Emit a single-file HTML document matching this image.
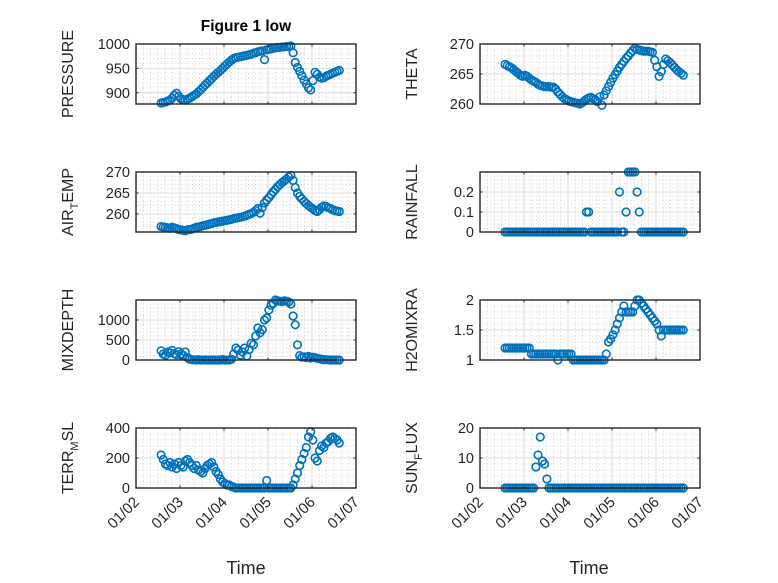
<!DOCTYPE html>
<html><head><meta charset="utf-8"><style>
body{margin:0;background:#fff}
svg{display:block;font-family:"Liberation Sans",sans-serif}
</style></head><body>
<svg id="fig" width="778" height="583" viewBox="0 0 778 583" xmlns="http://www.w3.org/2000/svg">
<rect width="778" height="583" fill="#fff"/>
<text x="246" y="31" text-anchor="middle" font-size="15.5" font-weight="bold" fill="#000">Figure 1 low</text>
<text x="246" y="574" text-anchor="middle" font-size="18" fill="#262626">Time</text>
<text x="589" y="574" text-anchor="middle" font-size="18" fill="#262626">Time</text>
</svg>
<script>
const times=[];for(let i=0;i<82;i++)times.push(+(2.57+0.05*i).toFixed(2));
const xTickDays=[2,3,4,5,6,7];
const xTickLabels=["01/02","01/03","01/04","01/05","01/06","01/07"];
const pressure=[879,880,881,883,885,889,895,899,893,888,886,885,887,889,892,895,898,902,906,911,916,920,925,929,934,938,942,946,950,955,959,963,967,970,972,973,974,975,976,977,978,979,981,982,984,985,986,968,988,989,990,991,992,993,993,994,994,995,995,996,982,962,952,944,935,926,918,910,906,925,942,938,932,930,931,934,936,938,940,942,944,946];
const theta=[266.6,266.4,266.2,266.0,265.7,265.4,265.1,264.8,264.6,264.8,264.6,264.3,264.0,263.8,263.6,263.3,263.1,263.0,262.9,262.9,262.9,262.8,262.8,262.5,262.0,261.6,261.2,260.9,260.7,260.5,260.4,260.3,260.2,260.1,260.0,260.2,260.5,260.8,261.0,261.1,260.9,260.7,260.4,261.2,259.8,261.5,262.2,262.9,263.6,264.3,264.9,265.5,266.1,266.6,267.1,267.6,268.0,268.5,268.9,269.3,269.1,269.0,268.9,268.8,268.8,268.8,268.7,268.6,267.3,266.2,264.6,265.4,266.6,267.5,267.2,266.9,266.5,266.1,265.7,265.4,265.1,264.8];
const airTemp=[257.0,256.9,256.8,256.7,256.6,256.8,256.7,256.5,256.3,256.2,256.1,256.0,256.2,256.3,256.4,256.6,256.8,256.9,257.0,257.2,257.3,257.4,257.6,257.7,257.9,258.0,258.1,258.2,258.3,258.4,258.5,258.6,258.7,258.9,259.0,259.1,259.2,259.3,259.5,259.7,259.9,260.1,260.4,260.8,261.3,260.2,261.5,262.6,263.3,263.9,264.6,265.3,265.9,266.5,267.0,267.5,267.9,268.3,268.8,269.2,268.0,266.3,265.0,264.2,263.6,263.0,262.5,262.0,261.6,261.2,260.8,260.6,261.0,261.6,261.9,261.8,261.5,261.3,261.0,260.8,260.7,260.6];
const rainfall=[0,0,0,0,0,0,0,0,0,0,0,0,0,0,0,0,0,0,0,0,0,0,0,0,0,0,0,0,0,0,0,0,0,0,0,0,0,0.1,0.1,0,0,0,0,0,0,0,0,0,0,0,0,0,0.2,0,0,0.1,0.3,0.3,0.3,0.3,0.2,0.1,0,0,0,0,0,0,0,0,0,0,0,0,0,0,0,0,0,0,0,0];
const mixDepth=[230,150,120,200,180,240,160,130,210,150,120,200,60,20,10,5,0,10,0,0,5,0,0,0,0,0,0,0,10,0,0,0,20,150,300,250,120,200,300,100,260,420,380,600,800,680,760,1000,1050,1250,1370,1420,1500,1480,1470,1460,1480,1470,1450,1400,1100,880,380,110,70,80,60,90,50,70,60,40,30,20,10,10,5,0,0,0,0,0];
const h2oMixRa=[1.2,1.2,1.2,1.2,1.2,1.2,1.2,1.2,1.2,1.2,1.2,1.2,1.1,1.1,1.1,1.1,1.1,1.1,1.1,1.1,1.1,1.1,1.1,1.1,1.0,1.1,1.1,1.1,1.1,1.1,1.1,1.0,1.0,1.0,1.0,1.0,1.0,1.0,1.0,1.0,1.0,1.0,1.0,1.0,1.0,1.0,1.1,1.3,1.35,1.42,1.5,1.6,1.7,1.8,1.9,1.8,1.8,1.8,1.8,1.9,2.0,2.0,1.95,1.9,1.85,1.8,1.75,1.7,1.65,1.6,1.5,1.4,1.5,1.5,1.5,1.5,1.5,1.5,1.5,1.5,1.5,1.5];
const terrMsl=[220,190,160,150,170,140,160,130,170,150,140,180,190,170,150,130,150,120,110,100,130,150,160,170,140,110,90,60,40,30,20,20,10,5,0,0,0,0,0,0,0,0,0,0,0,0,0,0,50,0,0,0,0,0,0,0,0,0,0,0,20,60,100,150,190,230,270,340,375,320,200,180,250,280,270,300,310,330,340,330,320,300];
const sunFlux=[0,0,0,0,0,0,0,0,0,0,0,0,0,0,7,11,17,9,8,3,0,0,0,0,0,0,0,0,0,0,0,0,0,0,0,0,0,0,0,0,0,0,0,0,0,0,0,0,0,0,0,0,0,0,0,0,0,0,0,0,0,0,0,0,0,0,0,0,0,0,0,0,0,0,0,0,0,0,0,0,0,0];

const NS='http://www.w3.org/2000/svg';
const svg=document.getElementById('fig');
function mk(tag,attrs,parent){const e=document.createElementNS(NS,tag);for(const k in attrs)e.setAttribute(k,attrs[k]);(parent||svg).appendChild(e);return e;}

const panels=[
 {id:'pressure',label:['PRESSURE'],vals:pressure,col:0,row:0,ymin:877,ymax:1000,ticks:[900,950,1000],minor:10},
 {id:'theta',label:['THETA'],vals:theta,col:1,row:0,ymin:260,ymax:270,ticks:[260,265,270],minor:1},
 {id:'air-temp',label:['AIR','T','EMP'],vals:airTemp,col:0,row:1,ymin:255.7,ymax:270,ticks:[260,265,270],minor:1},
 {id:'rainfall',label:['RAINFALL'],vals:rainfall,col:1,row:1,ymin:0,ymax:0.3,ticks:[0,0.1,0.2],minor:0.02},
 {id:'mixdepth',label:['MIXDEPTH'],vals:mixDepth,col:0,row:2,ymin:0,ymax:1500,ticks:[0,500,1000],minor:100},
 {id:'h2omixra',label:['H2OMIXRA'],vals:h2oMixRa,col:1,row:2,ymin:1,ymax:2,ticks:[1,1.5,2],minor:0.1},
 {id:'terr-msl',label:['TERR','M','SL'],vals:terrMsl,col:0,row:3,ymin:0,ymax:400,ticks:[0,200,400],minor:40},
 {id:'sun-flux',label:['SUN','F','LUX'],vals:sunFlux,col:1,row:3,ymin:0,ymax:20,ticks:[0,10,20],minor:2}
];
const colX=[136,480],rowY=[44,172,300,428],W=220,H=60;

panels.forEach(p=>{
 const x0=colX[p.col],y0=rowY[p.row];
 const xs=d=>x0+(d-2)/5*W;
 const ys=v=>y0+H-(v-p.ymin)/(p.ymax-p.ymin)*H;
 const g=mk('g',{});
 
 
 for(let d=2;d<=7.0001;d+=1/6){const x=xs(d);mk('line',{x1:x,x2:x,y1:y0,y2:y0+H,stroke:'#c8c8c8','stroke-width':0.8,'stroke-dasharray':'1 2.5'},g);}
 const start=Math.ceil(p.ymin/p.minor-1e-6)*p.minor;
 for(let v=start;v<=p.ymax+1e-9;v+=p.minor){const y=ys(v);mk('line',{x1:x0,x2:x0+W,y1:y,y2:y,stroke:'#c8c8c8','stroke-width':0.8,'stroke-dasharray':'1 2.5'},g);}
 xTickDays.forEach(d=>{const x=xs(d);mk('line',{x1:x,x2:x,y1:y0,y2:y0+H,stroke:'#dedede','stroke-width':1},g);});
 p.ticks.forEach(v=>{const y=ys(v);mk('line',{x1:x0,x2:x0+W,y1:y,y2:y,stroke:'#dedede','stroke-width':1},g);});
 p.vals.forEach((v,i)=>{
  const c=mk('circle',{cx:xs(times[i]),cy:ys(v),r:3.8,fill:'none',stroke:'#0072BD','stroke-width':1.6},g);
  
  
 });
 mk('rect',{x:x0,y:y0,width:W,height:H,fill:'none',stroke:'#262626','stroke-width':1.4},g);
 xTickDays.forEach((d,k)=>{const x=xs(d);
  mk('line',{x1:x,x2:x,y1:y0+H,y2:y0+H-2.5,stroke:'#262626'},g);
  mk('line',{x1:x,x2:x,y1:y0,y2:y0+2.5,stroke:'#262626'},g);
  if(p.row===3){const t=mk('text',{x:x+4,y:y0+H+15,'text-anchor':'end','font-size':15,fill:'#262626',transform:`rotate(-45 ${x+4} ${y0+H+15})`},g);t.textContent=xTickLabels[k];
   
   }
 });
 p.ticks.forEach(v=>{const y=ys(v);
  mk('line',{x1:x0,x2:x0+2.5,y1:y,y2:y,stroke:'#262626'},g);
  mk('line',{x1:x0+W,x2:x0+W-2.5,y1:y,y2:y,stroke:'#262626'},g);
  const t=mk('text',{x:x0-6,y:y+5,'text-anchor':'end','font-size':14.5,fill:'#262626'},g);t.textContent=String(v);
  
  
 });
 const lx=x0-63,ly=y0+H/2;
 const t=mk('text',{x:lx,y:ly,'text-anchor':'middle','font-size':16,fill:'#262626',transform:`rotate(-90 ${lx} ${ly})`},g);
 
 
 if(p.label.length===1)t.textContent=p.label[0];
 else{const a=mk('tspan',{},t);a.textContent=p.label[0];
  const b=mk('tspan',{dy:5,'font-size':11},t);b.textContent=p.label[1];
  const c=mk('tspan',{dy:-5},t);c.textContent=p.label[2];}
});
</script>
</body></html>
